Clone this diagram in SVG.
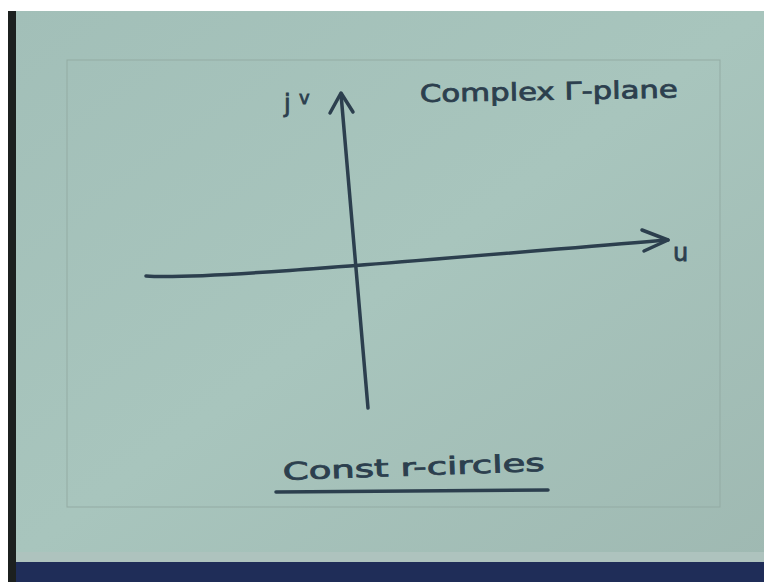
<svg xmlns="http://www.w3.org/2000/svg" width="764" height="582" viewBox="0 0 764 582">
<defs>
<linearGradient id="paper" x1="0" y1="0" x2="1" y2="1">
<stop offset="0" stop-color="#a2bfb8"/>
<stop offset="0.5" stop-color="#a8c5bd"/>
<stop offset="1" stop-color="#9fb9b2"/>
</linearGradient>
<style>
.ink{fill:none;stroke:#2c3f4e;stroke-width:3.5;stroke-linecap:round;stroke-linejoin:round}
.txt{font-family:"DejaVu Sans","Liberation Sans",sans-serif;fill:#2c3f4e;stroke:#2c3f4e;stroke-width:0.8}
</style>
</defs>
<rect width="764" height="582" fill="#ffffff"/>
<rect x="8" y="11" width="756" height="552" fill="url(#paper)"/>
<rect x="8" y="11" width="8" height="571" fill="#1c201f"/>
<rect x="16" y="552" width="748" height="10" fill="#aec3be"/>
<rect x="16" y="562" width="748" height="20" fill="#1f2d58"/>
<rect x="67" y="60" width="653" height="447" fill="none" stroke="#93aba4" stroke-width="1"/>
<g id="axes">
<path class="ink" d="M368,408 L341,94"/>
<path class="ink" d="M330,113 L341,93 L353,112"/>
<path class="ink" d="M146,276 C200,280 400,262 668,240"/>
<path class="ink" d="M642,230 L668,240 L644,251"/>
</g>
<g id="labels">
<text class="txt" x="284" y="112" font-size="24">j</text>
<text class="txt" x="299" y="104" font-size="18">v</text>
<text class="txt" x="420" y="102" font-size="24" textLength="258" lengthAdjust="spacingAndGlyphs" transform="rotate(-1 420 102)">Complex Γ-plane</text>
<text class="txt" x="673" y="261" font-size="24">u</text>
<text class="txt" x="283" y="480" font-size="24" textLength="262" lengthAdjust="spacingAndGlyphs" transform="rotate(-2 283 480)">Const r-circles</text>
<path class="ink" d="M276,492 L548,490"/>
</g>
</svg>
